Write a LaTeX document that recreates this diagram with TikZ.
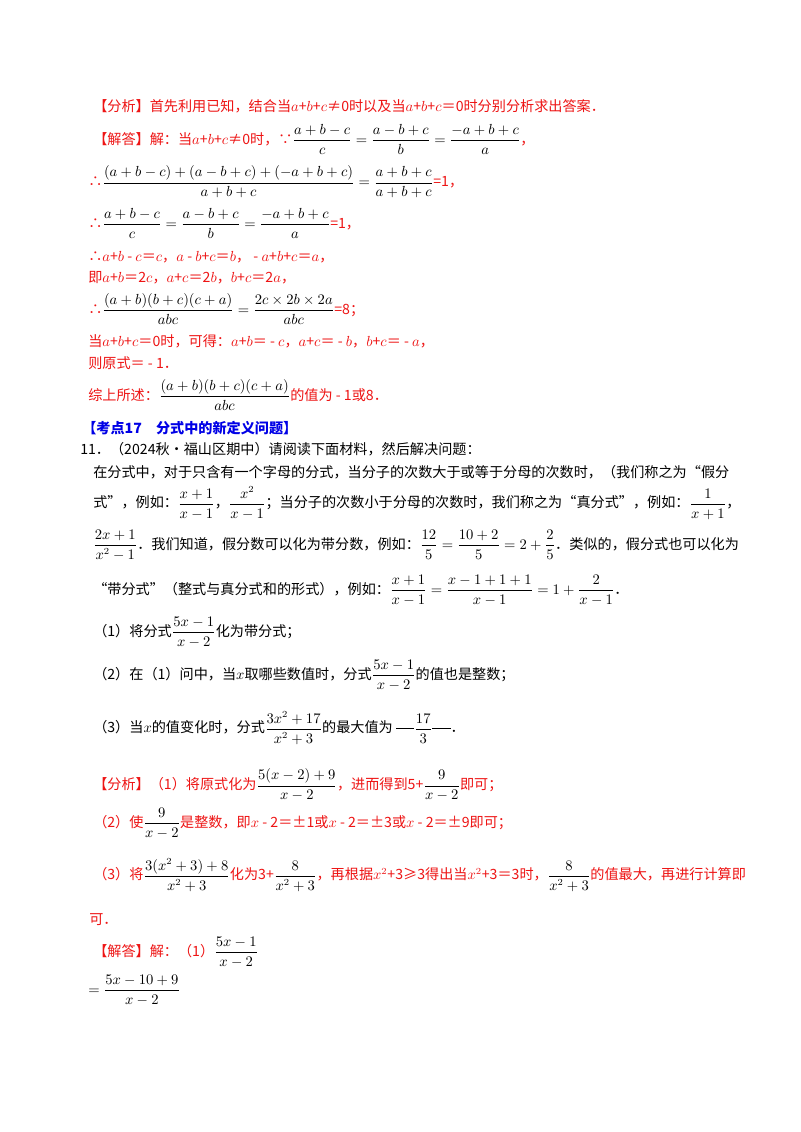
\documentclass[tikz,border=0pt]{standalone}
\usepackage{amsmath}
\usepackage{fontspec}
\setmainfont{Liberation Serif}
\newfontfamily\cjk{Noto Sans CJK SC}
\definecolor{ansred}{RGB}{238,20,20}
\definecolor{hdblue}{RGB}{0,0,230}
\newcommand{\K}[1]{\textcolor{black}{$\displaystyle #1$}}
\newcommand{\blank}[1]{\rule[0.3em]{1.3em}{0.5pt}\K{#1}\rule[0.3em]{1.3em}{0.5pt}}
\begin{document}
\begin{tikzpicture}[x=0.75pt,y=-0.75pt,
  ln/.style={anchor=west,inner sep=0pt,font=\cjk\fontsize{10.6}{13}\selectfont},
  rl/.style={ln,text=ansred},
  bl/.style={ln,text=black},
  hd/.style={ln,text=hdblue,font=\cjk\bfseries\fontsize{10.6}{13}\selectfont}]
\useasboundingbox (0,0) rectangle (800,1132);
\fill[white] (0,0) rectangle (800,1132);
\node[rl] (l1) at (93,106) {【分析】首先利用已知，结合当$a$+$b$+$c$≠0时以及当$a$+$b$+$c$＝0时分别分析求出答案．};
\node[rl] (l2) at (93,139) {【解答】解：当$a$+$b$+$c$≠0时，∵\K{\frac{a+b-c}{c}=\frac{a-b+c}{b}=\frac{-a+b+c}{a}}，};
\node[rl] (l3) at (88,182) {∴\K{\frac{(a+b-c)+(a-b+c)+(-a+b+c)}{a+b+c}=\frac{a+b+c}{a+b+c}}=1，};
\node[rl] (l4) at (88,223) {∴\K{\frac{a+b-c}{c}=\frac{a-b+c}{b}=\frac{-a+b+c}{a}}=1，};
\node[rl] (l5) at (88,257) {∴$a$+$b$ - $c$＝$c$，$a$ - $b$+$c$＝$b$， - $a$+$b$+$c$＝$a$，};
\node[rl] (l6) at (88,278) {即$a$+$b$＝2$c$，$a$+$c$＝2$b$，$b$+$c$＝2$a$，};
\node[rl] (l7) at (88,309) {∴\K{\frac{(a+b)(b+c)(c+a)}{abc}=\frac{2c\times2b\times2a}{abc}}=8；};
\node[rl] (l8) at (88,341) {当$a$+$b$+$c$＝0时，可得：$a$+$b$＝ - $c$，$a$+$c$＝ - $b$，$b$+$c$＝ - $a$，};
\node[rl] (l9) at (88,363) {则原式＝ - 1．};
\node[rl] (l10) at (88,395) {综上所述：\K{\frac{(a+b)(b+c)(c+a)}{abc}}的值为 - 1或8．};
\node[hd] (h) at (82,428) {【考点17\quad 分式中的新定义问题】};
\node[bl] (q) at (80,449) {11．（2024秋•福山区期中）请阅读下面材料，然后解决问题：};
\node[bl] (p1) at (93,472) {在分式中，对于只含有一个字母的分式，当分子的次数大于或等于分母的次数时，（我们称之为“假分};
\node[bl] (p2) at (93,503) {式”，例如：$\dfrac{x+1}{x-1}$，$\dfrac{x^2}{x-1}$；当分子的次数小于分母的次数时，我们称之为“真分式”，例如：$\dfrac{1}{x+1}$，};
\node[bl] (p3) at (93,545) {$\dfrac{2x+1}{x^2-1}$．我们知道，假分数可以化为带分数，例如：$\dfrac{12}{5}=\dfrac{10+2}{5}=2+\dfrac{2}{5}$．类似的，假分式也可以化为};
\node[bl] (p4) at (93,590) {“带分式”（整式与真分式和的形式），例如：$\dfrac{x+1}{x-1}=\dfrac{x-1+1+1}{x-1}=1+\dfrac{2}{x-1}$．};
\node[bl] (s1) at (93,632) {（1）将分式$\dfrac{5x-1}{x-2}$化为带分式；};
\node[bl] (s2) at (93,675) {（2）在（1）问中，当$x$取哪些数值时，分式$\dfrac{5x-1}{x-2}$的值也是整数；};
\node[bl] (s3) at (93,728) {（3）当$x$的值变化时，分式$\dfrac{3x^2+17}{x^2+3}$的最大值为\ \blank{\frac{17}{3}}．};
\node[rl] (a1) at (93,785) {【分析】（1）将原式化为\K{\frac{5(x-2)+9}{x-2}}，进而得到5+\K{\frac{9}{x-2}}即可；};
\node[rl] (a2) at (93,823) {（2）使\K{\frac{9}{x-2}}是整数，即$x$ - 2＝±1或$x$ - 2＝±3或$x$ - 2＝±9即可；};
\node[rl] (a3) at (93,875) {（3）将\K{\frac{3(x^2+3)+8}{x^2+3}}化为3+\K{\frac{8}{x^2+3}}，再根据$x^2$+3≥3得出当$x^2$+3＝3时，\K{\frac{8}{x^2+3}}的值最大，再进行计算即};
\node[rl] (a4) at (89,920) {可．};
\node[rl] (j1) at (93,952) {【解答】解：（1）\K{\frac{5x-1}{x-2}}};
\node[bl] (j2) at (88,990) {$\displaystyle=\frac{5x-10+9}{x-2}$};
\end{tikzpicture}
\end{document}
